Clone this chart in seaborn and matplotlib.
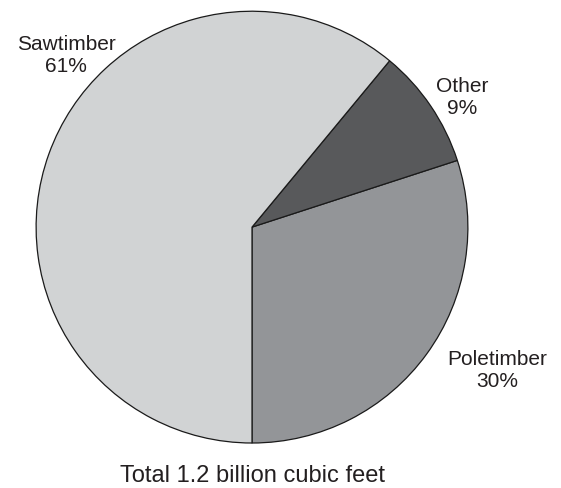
import matplotlib
matplotlib.use("Agg")
import matplotlib.pyplot as plt
import seaborn as sns

# Share of total volume by product class
categories = ["Poletimber", "Other", "Sawtimber"]
percent = [30, 9, 61]
colors = ["#939598", "#58595b", "#d1d3d4"]
title_text = "Total 1.2 billion cubic feet"

sns.set_theme(style="white")
plt.rcParams["font.family"] = ["Liberation Sans", "DejaVu Sans"]

fig = plt.figure(figsize=(5.61, 4.89), dpi=100)
ax = fig.add_axes([0.0642, 0.092, 0.770, 0.883])

ax.pie(
    percent,
    colors=colors,
    startangle=-90,
    counterclock=True,
    radius=1.0,
    wedgeprops=dict(edgecolor="#1a1a1a", linewidth=0.9),
)
ax.set_xlim(-1, 1)
ax.set_ylim(-1, 1)
ax.set_aspect("equal")
ax.axis("off")

label_pos = {
    "Sawtimber": (-0.861, 0.800),
    "Other": (0.972, 0.606),
    "Poletimber": (1.134, -0.658),
}
for name, val in zip(categories, percent):
    x, y = label_pos[name]
    ax.text(x, y, f"{name}\n{val}%", ha="center", va="center",
            fontsize=15, color="#231f20", linespacing=1.22, clip_on=False)

ax.text(0.0, -1.148, title_text, ha="center", va="center",
        fontsize=17, color="#231f20", clip_on=False)

fig.savefig("out.png", dpi=100)
